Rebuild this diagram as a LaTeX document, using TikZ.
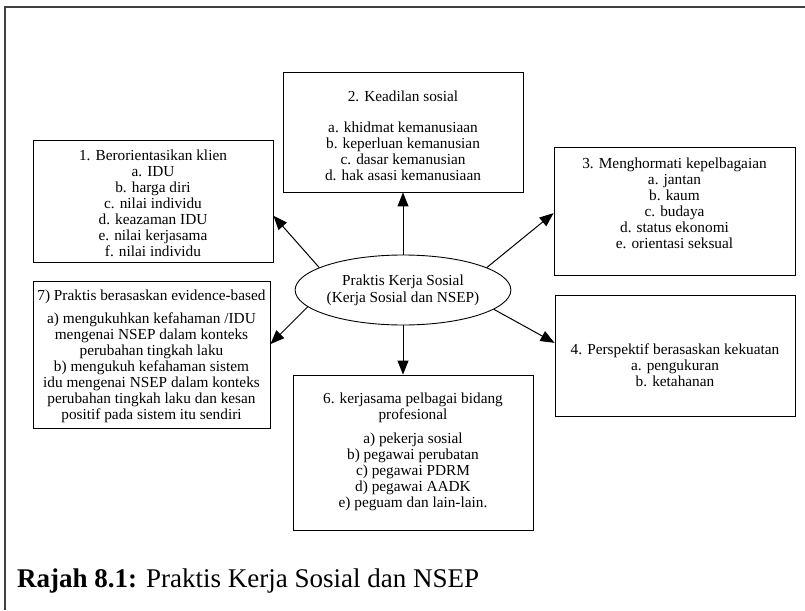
\documentclass[tikz,border=0pt]{standalone}
\usepackage{fontspec}
\setmainfont{Liberation Serif}
\usetikzlibrary{arrows.meta,shapes.geometric}

\tikzset{
  kotak/.style={draw, line width=0.9pt, inner sep=0pt},
  isi/.style={anchor=north, inner sep=0pt, font=\fontsize{15.3}{16}\selectfont},
  anak/.style={-{Triangle[length=14pt,width=11pt]}, line width=1pt},
}

\begin{document}
\begin{tikzpicture}[x=1pt,y=-1pt]
\useasboundingbox (0,0) rectangle (805,610);
% bingkai
\draw[line width=1.3pt, black!75] (5,610) -- (5,7) -- (805,7);

% kotak-kotak
\node[kotak, minimum width=240pt, minimum height=122pt] (k1) at (153,201) {};
\node[isi] (t1) at (153,149) {\begin{tabular}{c} 1. Berorientasikan klien \\ a. IDU \\ b. harga diri \\ c. nilai individu \\ d. keazaman IDU \\ e. nilai kerjasama \\ f. nilai individu \end{tabular}};

\node[kotak, minimum width=240pt, minimum height=120pt] (k2) at (403,132) {};
\node[isi] (t2) at (403,90) {\begin{tabular}{c} 2. Keadilan sosial \\[15pt] a. khidmat kemanusiaan \\ b. keperluan kemanusian \\ c. dasar kemanusian \\ d. hak asasi kemanusiaan \end{tabular}};

\node[kotak, minimum width=241pt, minimum height=128pt] (k3) at (674.5,211) {};
\node[isi] (t3) at (674.5,157) {\begin{tabular}{c} 3. Menghormati kepelbagaian \\ a. jantan \\ b. kaum \\ c. budaya \\ d. status ekonomi \\ e. orientasi seksual \end{tabular}};

\node[kotak, minimum width=240pt, minimum height=121pt] (k4) at (675,355.5) {};
\node[isi] (t4) at (675,343) {\begin{tabular}{c} 4. Perspektif berasaskan kekuatan \\ a. pengukuran \\ b. ketahanan \end{tabular}};

\node[kotak, minimum width=240pt, minimum height=155pt] (k6) at (413,452.5) {};
\node[isi] (t6) at (413,392) {\begin{tabular}{c} 6. kerjasama pelbagai bidang \\ profesional \\[8pt] a) pekerja sosial \\ b) pegawai perubatan \\ c) pegawai PDRM \\ d) pegawai AADK \\ e) peguam dan lain-lain. \end{tabular}};

\node[kotak, minimum width=237pt, minimum height=147pt] (k7) at (151.5,354.5) {};
\node[isi] (t7) at (151.5,289) {\begin{tabular}{c} 7) Praktis berasaskan evidence-based \\[7pt] a) mengukuhkan kefahaman /IDU \\ mengenai NSEP dalam konteks \\ perubahan tingkah laku \\ b) mengukuh kefahaman sistem \\ idu mengenai NSEP dalam konteks \\ perubahan tingkah laku dan kesan \\ positif pada sistem itu sendiri \end{tabular}};

% pusat
\node[ellipse, draw, line width=0.9pt, minimum width=198pt, minimum height=70pt, inner sep=0pt, align=center, font=\fontsize{15.3}{17}\selectfont] (e) at (403,290) {Praktis Kerja Sosial \\ (Kerja Sosial dan NSEP)};

\draw[anak] (e.north) -- (k2.south);
\draw[anak] (e.165) -- (k1.-7);
\draw[anak] (e.15) -- (k3.181);
\draw[anak] (e.190) -- (k7.5);
\draw[anak] (e.-12) -- (k4.174);
\draw[anak] (e.south) -- (e.south |- k6.north);

\node[anchor=base west, inner sep=0pt, font=\fontsize{27}{30}\selectfont] (cap) at (17,587) {\textbf{Rajah 8.1:} Praktis Kerja Sosial dan NSEP};
\end{tikzpicture}
\end{document}
